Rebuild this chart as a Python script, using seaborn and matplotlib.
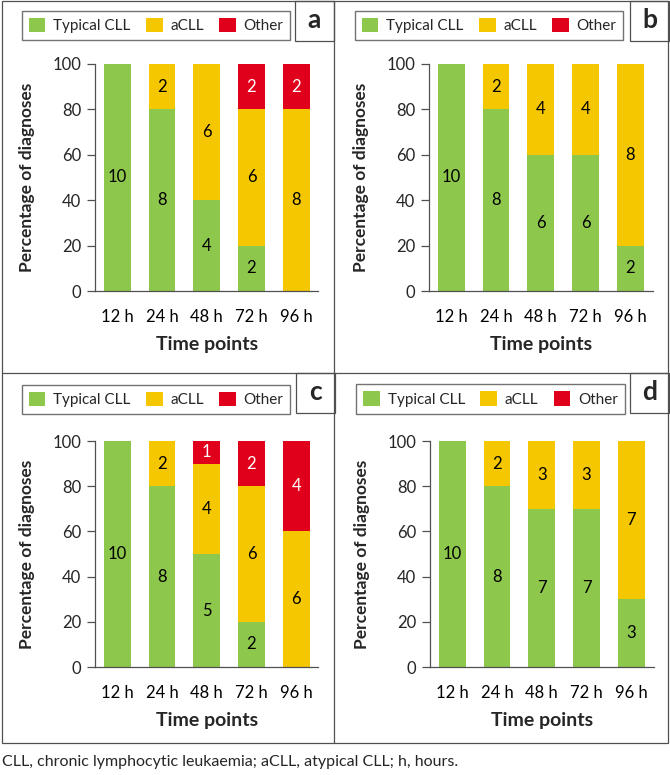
import pandas as pd
import numpy as np
import matplotlib
matplotlib.use("Agg")
import matplotlib.pyplot as plt
from matplotlib.patches import Rectangle, Patch
from matplotlib.lines import Line2D
import seaborn as sns

# --- data (number of diagnoses out of 10, per time point) ---
time_points = ["12 h", "24 h", "48 h", "72 h", "96 h"]
categories = ["Typical CLL", "aCLL", "Other"]

typical_a = [10, 8, 4, 2, 0]
acll_a = [0, 2, 6, 6, 8]
other_a = [0, 0, 0, 2, 2]

typical_b = [10, 8, 6, 6, 2]
acll_b = [0, 2, 4, 4, 8]
other_b = [0, 0, 0, 0, 0]

typical_c = [10, 8, 5, 2, 0]
acll_c = [0, 2, 4, 6, 6]
other_c = [0, 0, 1, 2, 4]

typical_d = [10, 8, 7, 7, 3]
acll_d = [0, 2, 3, 3, 7]
other_d = [0, 0, 0, 0, 0]

panel_letters = ["a", "b", "c", "d"]

GREEN = "#8DC84C"
YELLOW = "#F4C700"
RED = "#E1001B"
LINE = "#505050"

sns.set_style("white")
plt.rcParams["font.family"] = ["Lato", "DejaVu Sans"]

W, H = 670, 775
fig = plt.figure(figsize=(6.7, 7.75), dpi=100)


def px(x, y):
    # pixel coords (top-left origin) -> figure fraction
    return x / W, 1 - y / H


def draw_panel(rect, typical, acll, other):
    ax = fig.add_axes(rect)
    df = pd.DataFrame({"time": time_points, "typical": typical, "acll": acll, "other": other})
    total = df[["typical", "acll", "other"]].sum(axis=1)
    df["p_typ"] = df["typical"] / total * 100
    df["p_acll"] = df["acll"] / total * 100
    df["p_other"] = df["other"] / total * 100
    df["top"] = df["p_typ"] + df["p_acll"] + df["p_other"]
    df["mid"] = df["p_typ"] + df["p_acll"]

    # stacked bars by overlaying cumulative heights
    sns.barplot(data=df, x="time", y="top", color=RED, saturation=1, width=0.6,
                errorbar=None, linewidth=0, ax=ax)
    sns.barplot(data=df, x="time", y="mid", color=YELLOW, saturation=1, width=0.6,
                errorbar=None, linewidth=0, ax=ax)
    sns.barplot(data=df, x="time", y="p_typ", color=GREEN, saturation=1, width=0.6,
                errorbar=None, linewidth=0, ax=ax)

    for i, row in df.iterrows():
        segs = [(row["typical"], 0, row["p_typ"], "black"),
                (row["acll"], row["p_typ"], row["p_acll"], "black"),
                (row["other"], row["mid"], row["p_other"], "white")]
        for n, base, h, col in segs:
            if n > 0:
                ax.text(i, base + h / 2, str(int(n)), ha="center", va="center",
                        fontsize=12, color=col)

    ax.set_xlim(-0.5, 4.5)
    ax.set_ylim(0, 100)
    ax.set_yticks(range(0, 101, 20))
    ax.set_xticks(range(5))
    ax.set_xticklabels(time_points)
    ax.set_xticks(np.arange(-0.5, 5, 1), minor=True)
    ax.tick_params(axis="x", which="major", length=0, pad=13, labelsize=12, colors="black")
    ax.tick_params(axis="x", which="minor", length=5, width=0.9, color=LINE, direction="out")
    ax.tick_params(axis="y", length=6, width=0.9, color=LINE, pad=4, labelsize=12, left=True)
    for s in ["top", "right"]:
        ax.spines[s].set_visible(False)
    for s in ["left", "bottom"]:
        ax.spines[s].set_color(LINE)
        ax.spines[s].set_linewidth(0.9)
    ax.set_xlabel("Time points", fontsize=14, fontweight="bold")
    ax.set_ylabel("Percentage of diagnoses", fontsize=12.5, fontweight="bold")
    ax.xaxis.set_label_coords(0.5, -0.2)
    ax.yaxis.set_label_coords(-0.27, 0.5)
    return ax


panels = [
    ([95 / W, 484 / H, 223.5 / W, 227 / H], typical_a, acll_a, other_a),
    ([429 / W, 484 / H, 223.5 / W, 227 / H], typical_b, acll_b, other_b),
    ([95 / W, 108 / H, 223.5 / W, 226 / H], typical_c, acll_c, other_c),
    ([430 / W, 108 / H, 223.5 / W, 226 / H], typical_d, acll_d, other_d),
]
legend_centers = [(156, 25.5), (489, 25.5), (156, 399.5), (490.5, 399)]
letter_boxes = [(295, 1), (630, 1), (296, 373), (630, 373)]

handles = [Patch(facecolor=c, edgecolor="none") for c in [GREEN, YELLOW, RED]]

for (rect, t, a, o), (lx, ly), (bx, by), letter in zip(panels, legend_centers, letter_boxes, panel_letters):
    ax = draw_panel(rect, t, a, o)
    leg = ax.legend(handles, categories, ncol=3, loc="center",
                    bbox_to_anchor=px(lx, ly), bbox_transform=fig.transFigure,
                    frameon=True, fancybox=False, fontsize=11,
                    handlelength=1.1, handleheight=1.1, handletextpad=0.5,
                    columnspacing=1.0, borderpad=0.45, borderaxespad=0)
    leg.get_frame().set_edgecolor(LINE)
    leg.get_frame().set_linewidth(1.0)
    # letter box
    x0, y0 = px(bx, by + 40)
    fig.add_artist(Rectangle((x0, y0), 38.5 / W, 40 / H, transform=fig.transFigure,
                             facecolor="white", edgecolor=LINE, linewidth=0.9))
    cx, cy = px(bx + 19.5, by + 19)
    fig.text(cx, cy, letter, ha="center", va="center", fontsize=19, fontweight="bold")

# panel borders
ox0, oy0 = px(2, 743)
fig.add_artist(Rectangle((ox0, oy0), 666 / W, 742 / H, transform=fig.transFigure,
                         facecolor="none", edgecolor=LINE, linewidth=0.9))
fig.add_artist(Line2D([334 / W, 334 / W], [px(0, 1)[1], px(0, 743)[1]],
                      transform=fig.transFigure, color=LINE, linewidth=0.9))
fig.add_artist(Line2D([2 / W, 668 / W], [px(0, 373)[1], px(0, 373)[1]],
                      transform=fig.transFigure, color=LINE, linewidth=0.9))

fig.text(*px(2, 762), "CLL, chronic lymphocytic leukaemia; aCLL, atypical CLL; h, hours.",
         ha="left", va="center", fontsize=11.5)

fig.savefig("out.png", dpi=100)
